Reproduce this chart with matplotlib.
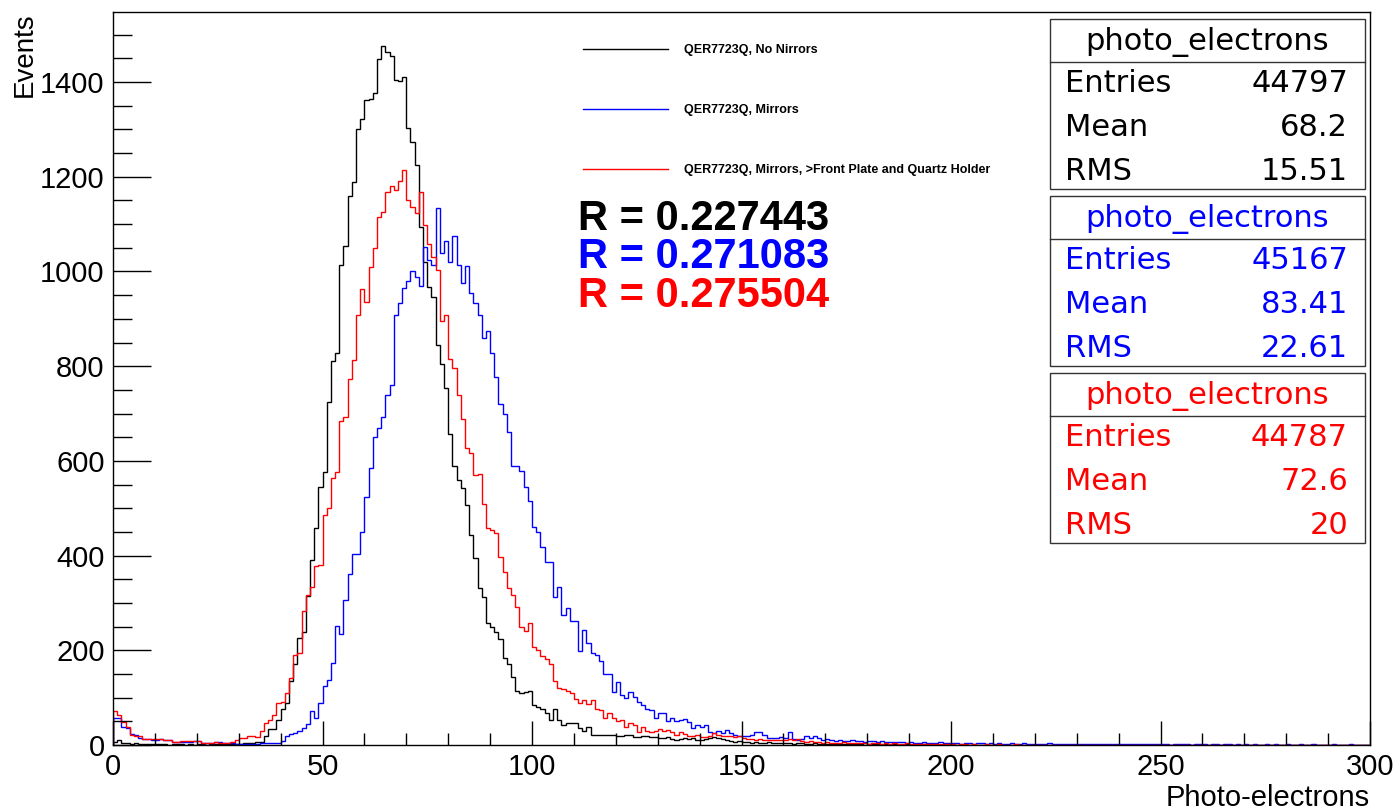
import numpy as np
import matplotlib
matplotlib.use("Agg")
import matplotlib.pyplot as plt
from matplotlib.patches import Rectangle

# ---------------- data (counts per 1-p.e. bin, 0..300) ----------------
bin_edges = list(range(0, 301))

no_mirrors = [
    6, 10, 5, 4, 3, 4, 2, 3, 2, 2,
    3, 2, 2, 1, 2, 2, 2, 1, 2, 1,
    2, 2, 1, 2, 2, 2, 3, 2, 2, 3,
    3, 4, 4, 5, 7, 7, 18, 33, 33, 53,
    77, 89, 135, 172, 227, 239, 315, 391, 458, 545,
    576, 724, 811, 827, 1013, 1053, 1160, 1188, 1300, 1323,
    1362, 1364, 1376, 1448, 1476, 1464, 1455, 1404, 1403, 1411,
    1303, 1274, 1225, 1094, 1020, 968, 946, 844, 804, 753,
    656, 590, 559, 542, 507, 443, 394, 331, 313, 258,
    250, 239, 223, 183, 172, 144, 113, 109, 111, 115,
    84, 81, 75, 67, 53, 75, 53, 42, 47, 46,
    46, 35, 30, 37, 21, 22, 21, 21, 22, 22,
    18, 20, 21, 21, 17, 17, 19, 18, 16, 16,
    14, 15, 17, 12, 11, 12, 14, 13, 14, 11,
    10, 12, 15, 16, 14, 12, 11, 8, 7, 8,
    7, 6, 5, 7, 5, 4, 6, 5, 4, 5,
    4, 4, 3, 4, 5, 3, 3, 4, 2, 3,
    3, 3, 2, 3, 2, 2, 3, 2, 2, 1,
    2, 2, 2, 1, 2, 1, 2, 1, 1, 2,
    1, 1, 1, 2, 1, 1, 0, 1, 1, 1,
    0, 1, 0, 1, 1, 0, 1, 0, 0, 1,
    0, 0, 1, 0, 1, 0, 0, 0, 1, 0,
    0, 1, 0, 0, 0, 1, 0, 0, 0, 0,
    1, 0, 0, 0, 0, 1, 0, 0, 0, 0,
    0, 0, 1, 0, 0, 0, 0, 0, 1, 0,
    0, 0, 0, 0, 1, 0, 0, 0, 0, 0,
    0, 1, 0, 0, 0, 0, 0, 0, 0, 1,
    0, 0, 0, 0, 0, 0, 1, 0, 0, 0,
    0, 0, 0, 1, 0, 0, 0, 0, 0, 0,
    0, 0, 0, 0, 0, 1, 0, 0, 0, 0,
]

mirrors = [
    58, 58, 37, 35, 23, 21, 14, 13, 13, 11,
    11, 13, 11, 11, 7, 7, 7, 7, 7, 9,
    9, 5, 5, 4, 7, 7, 4, 4, 4, 3,
    3, 3, 3, 3, 3, 4, 4, 4, 5, 5,
    8, 18, 23, 25, 30, 35, 44, 72, 58, 88,
    125, 137, 174, 251, 234, 306, 362, 403, 403, 449,
    524, 584, 651, 670, 693, 740, 760, 908, 934, 966,
    980, 1001, 989, 969, 1052, 1024, 1013, 1135, 1040, 1064,
    1019, 1075, 1013, 975, 1012, 954, 933, 908, 859, 875,
    827, 778, 720, 700, 662, 590, 590, 579, 544, 515,
    461, 449, 419, 387, 386, 312, 334, 274, 289, 262,
    262, 199, 243, 215, 195, 190, 178, 149, 149, 112,
    134, 106, 99, 111, 102, 91, 84, 77, 74, 56,
    67, 67, 51, 58, 51, 53, 55, 49, 35, 42,
    37, 42, 28, 25, 30, 25, 32, 25, 21, 18,
    20, 18, 22, 28, 28, 21, 14, 14, 15, 16,
    14, 27, 13, 10, 12, 20, 14, 18, 14, 10,
    12, 10, 9, 10, 8, 9, 11, 9, 8, 7,
    9, 8, 7, 8, 6, 7, 6, 7, 6, 5,
    6, 5, 5, 6, 4, 5, 4, 6, 5, 4,
    4, 5, 3, 4, 4, 3, 5, 4, 3, 4,
    3, 4, 3, 3, 4, 2, 3, 4, 3, 3,
    2, 3, 3, 4, 2, 3, 3, 2, 3, 2,
    3, 2, 3, 2, 2, 3, 2, 2, 3, 2,
    2, 3, 2, 2, 2, 3, 2, 2, 2, 3,
    2, 2, 1, 2, 3, 2, 2, 1, 2, 2,
    2, 1, 2, 2, 1, 2, 2, 1, 2, 1,
    2, 1, 2, 1, 1, 2, 1, 2, 1, 1,
    2, 1, 1, 2, 1, 1, 2, 1, 1, 1,
    1, 2, 1, 1, 1, 2, 1, 1, 1, 1,
]

mirrors_plate = [
    72, 63, 49, 37, 21, 18, 18, 13, 13, 12,
    12, 12, 10, 10, 7, 7, 9, 9, 9, 8,
    9, 5, 5, 5, 6, 5, 5, 5, 7, 11,
    14, 14, 18, 19, 16, 30, 46, 53, 63, 89,
    91, 110, 141, 190, 195, 282, 317, 334, 377, 380,
    486, 500, 564, 576, 685, 693, 774, 813, 908, 962,
    935, 1009, 1050, 1116, 1126, 1167, 1181, 1172, 1191, 1214,
    1151, 1137, 1123, 1167, 1098, 1059, 1030, 1003, 896, 909,
    816, 797, 740, 688, 628, 617, 570, 572, 508, 459,
    454, 447, 396, 366, 331, 317, 292, 250, 241, 258,
    206, 201, 189, 181, 172, 135, 120, 118, 115, 109,
    97, 89, 95, 87, 95, 77, 74, 58, 67, 58,
    51, 53, 39, 47, 42, 28, 39, 30, 28, 30,
    33, 30, 31, 27, 21, 27, 24, 18, 19, 21,
    16, 17, 18, 25, 22, 18, 19, 18, 17, 18,
    14, 13, 12, 11, 12, 11, 10, 11, 11, 10,
    11, 12, 11, 12, 9, 7, 8, 6, 7, 5,
    6, 5, 5, 4, 6, 5, 4, 5, 4, 4,
    3, 4, 4, 3, 4, 3, 4, 3, 3, 4,
    3, 2, 3, 3, 2, 3, 2, 2, 3, 2,
    2, 1, 2, 2, 1, 2, 1, 1, 2, 1,
    1, 2, 1, 1, 1, 2, 1, 0, 1, 1,
    1, 1, 0, 1, 1, 1, 0, 1, 1, 0,
    1, 0, 1, 1, 0, 1, 0, 1, 0, 1,
    1, 0, 1, 0, 1, 0, 0, 1, 0, 1,
    0, 1, 1, 0, 0, 1, 0, 1, 0, 0,
    1, 0, 0, 1, 0, 1, 0, 0, 1, 0,
    0, 1, 0, 0, 1, 0, 0, 1, 0, 0,
    0, 1, 0, 0, 0, 1, 0, 0, 1, 0,
    0, 0, 1, 0, 0, 0, 1, 0, 0, 1,
]

series_labels = ["QER7723Q, No Nirrors", "QER7723Q, Mirrors",
                 "QER7723Q, Mirrors, >Front Plate and Quartz Holder"]
series_colors = ["black", "#0000ff", "#ff0000"]
r_values = ["R = 0.227443", "R = 0.271083", "R = 0.275504"]
stats_title = "photo_electrons"
stats_entries = ["44797", "45167", "44787"]
stats_mean = ["68.2", "83.41", "72.6"]
stats_rms = ["15.51", "22.61", "20"]

x_ticks = [0, 50, 100, 150, 200, 250, 300]
y_ticks = [0, 200, 400, 600, 800, 1000, 1200, 1400]

# ---------------- figure ----------------
W, H = 1398, 811
fig = plt.figure(figsize=(W / 100, H / 100), dpi=100)
fig.patch.set_facecolor("white")
ax = fig.add_axes([113 / W, 1 - 745 / H, (1370 - 113) / W, (745 - 12) / H])

series = [no_mirrors, mirrors, mirrors_plate]
handles = []
for vals, col, lab in zip(series, series_colors, series_labels):
    h = ax.stairs(vals, bin_edges, color=col, lw=1.0, baseline=0, label=lab)
    handles.append(h)

ax.set_xlim(0, 300)
ax.set_ylim(0, 1548)
ax.set_xticks(x_ticks)
ax.set_xticks(np.arange(0, 301, 10), minor=True)
ax.set_yticks(y_ticks)
ax.set_yticks(np.arange(0, 1548, 50), minor=True)
ax.tick_params(axis="both", which="both", direction="in", top=False, right=False,
               labelsize=21, colors="black")
ax.tick_params(axis="y", which="major", length=27, width=1, pad=6)
ax.tick_params(axis="y", which="minor", length=14, width=1)
ax.tick_params(axis="x", which="major", length=17, width=1, pad=6)
ax.tick_params(axis="x", which="minor", length=9, width=1)
for lab in ax.get_xticklabels() + ax.get_yticklabels():
    lab.set_family("Liberation Sans")
for sp in ax.spines.values():
    sp.set_linewidth(1.0)

# legend (no frame)
from matplotlib.lines import Line2D
leg_handles = [Line2D([0], [0], color=c, lw=1.0) for c in series_colors]
leg = fig.legend(leg_handles, series_labels, loc="upper left",
                 bbox_to_anchor=(583 / W, 1 - 44 / H), frameon=False,
                 prop={"family": "Liberation Sans", "weight": "bold", "size": 9},
                 handlelength=6.8, handletextpad=1.3, labelspacing=3.85,
                 borderpad=0, borderaxespad=0)

# overlay in pixel coordinates for annotations
ov = fig.add_axes([0, 0, 1, 1])
ov.set_xlim(0, W)
ov.set_ylim(H, 0)
ov.axis("off")
ov.patch.set_alpha(0)

# R values
for txt, col, yb in zip(r_values, series_colors, [230, 268, 307]):
    ov.text(578, yb, txt, color=col, fontsize=30, fontweight="bold",
            family="Liberation Sans", va="baseline", ha="left")

# stats boxes
box_tops = [19, 196, 373]
for top, col, ent, mean, rms in zip(box_tops, series_colors, stats_entries,
                                    stats_mean, stats_rms):
    ov.add_patch(Rectangle((1050, top), 315, 170, facecolor="white",
                           edgecolor="#333333", lw=1.0, zorder=3))
    ov.plot([1050, 1365], [top + 43, top + 43], color="#333333", lw=1.0, zorder=4)
    ov.text(1207, top + 31, stats_title, color=col, fontsize=22,
            family="DejaVu Sans", ha="center", va="baseline", zorder=5)
    for name, val, dy in zip(["Entries", "Mean", "RMS"], [ent, mean, rms],
                             [73, 117, 161]):
        ov.text(1065, top + dy, name, color=col, fontsize=22,
                family="DejaVu Sans", ha="left", va="baseline", zorder=5)
        ov.text(1348, top + dy, val, color=col, fontsize=22,
                family="DejaVu Sans", ha="right", va="baseline", zorder=5)

# axis titles
ov.text(25, 12, "Events", rotation=90, fontsize=20, family="Liberation Sans",
        ha="center", va="top")
ov.text(1370, 806, "Photo-electrons", fontsize=21, family="Liberation Sans",
        ha="right", va="baseline")

fig.savefig("out.png", dpi=100, facecolor="white")
